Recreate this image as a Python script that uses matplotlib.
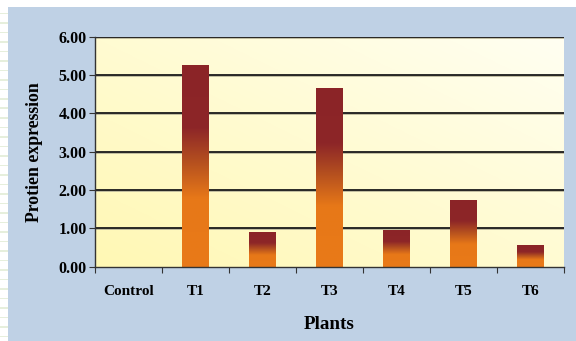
import matplotlib
matplotlib.use("Agg")
import matplotlib.pyplot as plt
import numpy as np
from matplotlib.colors import LinearSegmentedColormap
from matplotlib.patches import Rectangle

# --- DATA ---
plants = ["Control", "T1", "T2", "T3", "T4", "T5", "T6"]
expression = [0.0, 5.26, 0.90, 4.66, 0.96, 1.74, 0.57]
yticks = [0, 1, 2, 3, 4, 5, 6]

plt.rcParams['font.family'] = ['Liberation Serif', 'DejaVu Serif']
plt.rcParams['font.weight'] = 'bold'

W, H = 576, 341
fig = plt.figure(figsize=(W / 100, H / 100), dpi=100)
fig.patch.set_facecolor('white')

# blue panel + faint striped strip on the left
fig.patches.append(Rectangle((8 / W, 0), 1 - 8 / W, 1 - 7 / H, transform=fig.transFigure,
                             facecolor='#bfd1e5', edgecolor='none', zorder=-10))
for yy in np.arange(14, H, 9.5):
    fig.patches.append(Rectangle((0, 1 - yy / H), 8 / W, 1.5 / H, transform=fig.transFigure,
                                 facecolor='#e6efdc', edgecolor='none', zorder=-10))

ax = fig.add_axes([95 / W, (H - 266.7) / H, 469 / W, 230 / H])

# plot-area background gradient (pale yellow -> near white toward top right)
gx, gy = np.meshgrid(np.linspace(0, 1, 200), np.linspace(0, 1, 200))
bg_cmap = LinearSegmentedColormap.from_list('bg', ['#fff8b4', '#fffbd2', '#fffff2'])
ax.imshow(0.5 * gx + 0.5 * gy, cmap=bg_cmap, origin='lower', aspect='auto',
          extent=[-0.5, len(plants) - 0.5, 0, 6], zorder=0, vmin=0, vmax=1)

# gridlines with a little grey shadow
for t in yticks[1:]:
    ax.axhline(t - 0.028, color='#bcb89c', lw=1.3, zorder=1)
    ax.axhline(t, color='#1a1a1a', lw=1.3, zorder=1)

# bars with vertical gradient
bar_cmap = LinearSegmentedColormap.from_list(
    'bar', [(0, '#e97a18'), (0.34, '#e77818'), (0.52, '#b5501f'),
            (0.69, '#8d2628'), (1, '#8b2427')])
grad = np.linspace(0, 1, 256).reshape(-1, 1)
bw = 0.4
for i, v in enumerate(expression):
    if v <= 0:
        continue
    ax.imshow(grad, cmap=bar_cmap, origin='lower', aspect='auto',
              extent=[i - bw / 2, i + bw / 2, 0, v], zorder=2)

ax.set_xlim(-0.5, len(plants) - 0.5)
ax.set_ylim(0, 6)

# axes styling
for s in ['top', 'right']:
    ax.spines[s].set_visible(False)
for s in ['left', 'bottom']:
    ax.spines[s].set_color('#333333')
    ax.spines[s].set_linewidth(1.0)

ax.set_yticks(yticks)
ax.set_yticklabels([f"{t:.2f}" for t in yticks])
ax.set_xticks(np.arange(-0.5, len(plants)))
ax.set_xticklabels([])
ax.set_xticks(np.arange(len(plants)), minor=True)
ax.set_xticklabels(plants, minor=True)
ax.tick_params(axis='x', which='minor', length=0, pad=13, labelsize=11)
ax.tick_params(axis='x', which='major', length=4, direction='out', color='#333333')
ax.tick_params(axis='y', length=4, direction='out', color='#333333', labelsize=11.5, pad=2)
for lab in ax.get_yticklabels() + ax.get_xticklabels(minor=True):
    lab.set_fontweight('bold')

ax.set_ylabel("Protien expression", fontsize=12.8, fontweight='bold', labelpad=11)
ax.set_xlabel("Plants", fontsize=13.7, fontweight='bold', labelpad=13)

fig.savefig("out.png", dpi=100, facecolor=fig.get_facecolor())
